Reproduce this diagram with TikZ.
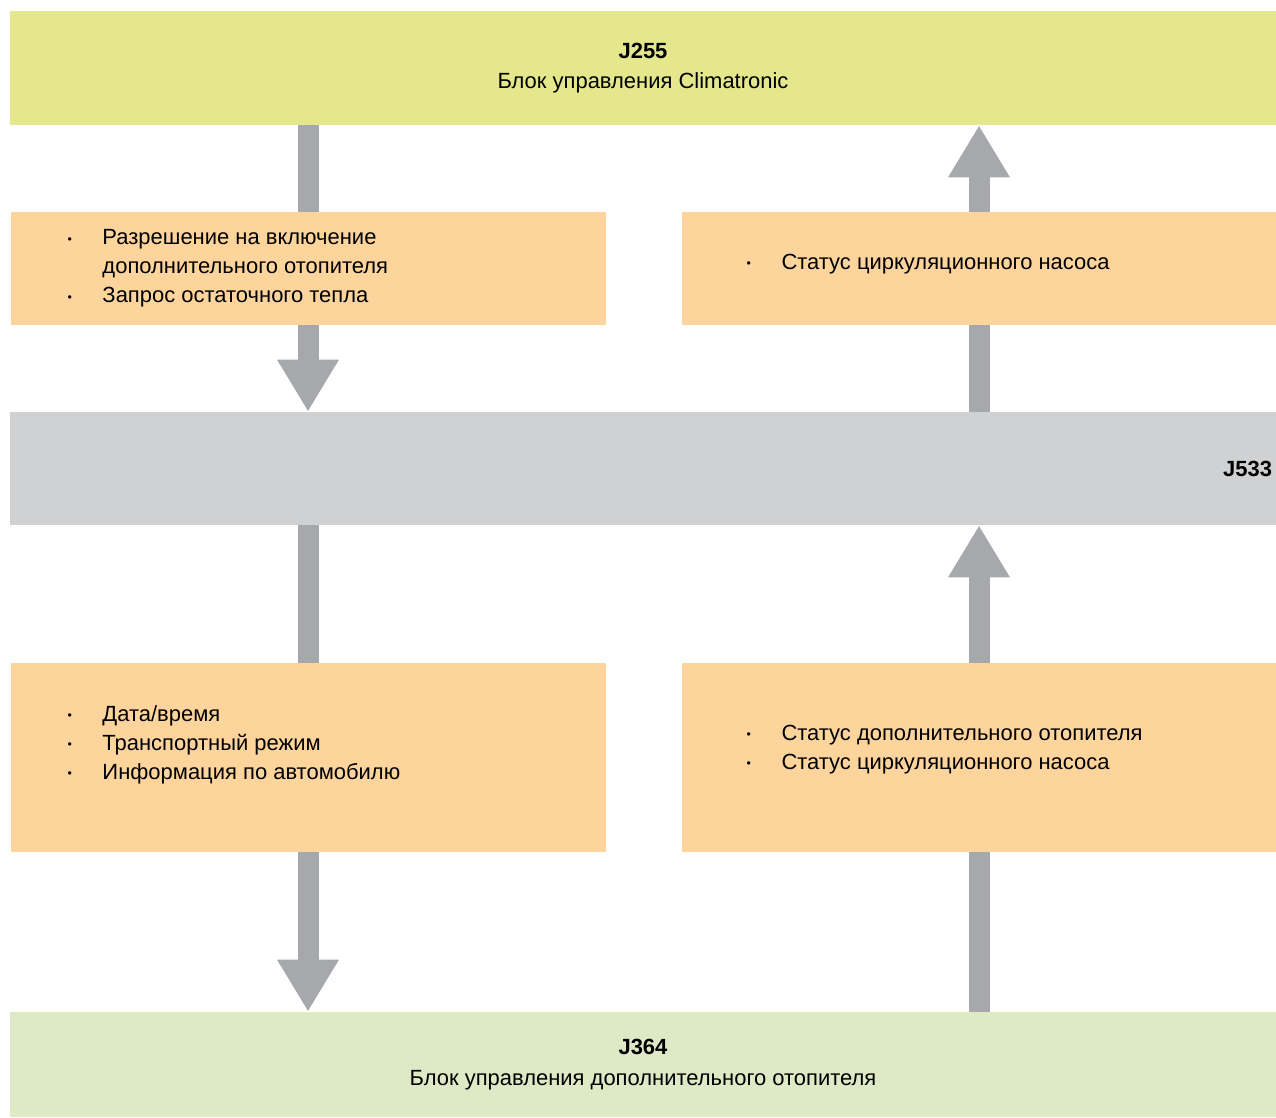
\documentclass[tikz,border=0pt]{standalone}
\usepackage{fontspec}
\setmainfont{Liberation Sans}
\usepackage{xcolor}
\usepackage{tikz}
\usetikzlibrary{arrows.meta,positioning,backgrounds}
\definecolor{ecuYellow}{HTML}{E5E78D}
\definecolor{ecuGreen}{HTML}{DEEAC6}
\definecolor{msgOrange}{HTML}{FCD49C}
\definecolor{busGray}{HTML}{D0D1D3}
\definecolor{arrowGray}{HTML}{A7A8AB}
\newcommand{\msgItem}[1]{\makebox[0.7cm][l]{\raisebox{0.15ex}{\scriptsize\textbullet}}#1}
\tikzset{
    ecuBox/.style={
        rectangle,
        inner sep=0pt,
        align=center,
        minimum width=25.32cm,
        font=\fontsize{12.5}{17.5}\selectfont
    },
    msgBox/.style={
        rectangle,
        inner sep=0pt,
        fill=msgOrange,
        minimum width=11.9cm
    },
    msgText/.style={
        anchor=west,
        inner sep=0pt,
        align=left,
        font=\fontsize{12.5}{16.5}\selectfont
    },
    dataArrow/.style={
        -{Triangle[width=1.16cm,length=1.04cm]},
        line width=0.42cm,
        draw=arrowGray
    }
}
\begin{document}
\begin{tikzpicture}
    \useasboundingbox (0,0) rectangle (25.52,-22.34);

    \node[ecuBox,fill=ecuYellow,minimum height=2.28cm] (j255) at (12.86,-1.36) {\textbf{J255}\\Блок управления Climatronic};
    \node[rectangle,fill=busGray,minimum width=25.32cm,minimum height=2.26cm] (j533) at (12.86,-9.37) {};
    \node[anchor=east,inner sep=0pt,font=\fontsize{12.5}{15}\selectfont\bfseries] (j533lbl) at ([xshift=-0.08cm]j533.east) {J533};
    \node[ecuBox,fill=ecuGreen,minimum height=2.1cm] (j364) at (12.86,-21.29) {\textbf{J364}\\Блок управления дополнительного отопителя};

    \node[msgBox,minimum height=2.26cm] (reqBox) at (6.16,-5.37) {};
    \node[msgBox,minimum height=2.26cm] (pumpBox) at (19.58,-5.37) {};
    \node[msgBox,minimum height=3.78cm] (infoBox) at (6.16,-15.15) {};
    \node[msgBox,minimum height=3.78cm] (statBox) at (19.58,-15.15) {};

    \node[msgText] (reqText) at ([xshift=1.14cm]reqBox.west) {\msgItem{Разрешение на включение}\\\hspace*{0.7cm}дополнительного отопителя\\\msgItem{Запрос остаточного тепла}};
    \node[msgText] (pumpText) at ([xshift=1.3cm,yshift=0.09cm]pumpBox.west) {\msgItem{Статус циркуляционного насоса}};
    \node[msgText] (infoText) at ([xshift=1.14cm,yshift=0.25cm]infoBox.west) {\msgItem{Дата/время}\\\msgItem{Транспортный режим}\\\msgItem{Информация по автомобилю}};
    \node[msgText] (statText) at ([xshift=1.3cm,yshift=0.16cm]statBox.west) {\msgItem{Статус дополнительного отопителя}\\\msgItem{Статус циркуляционного насоса}};

    % arrows run behind the message boxes
    \begin{pgfonlayer}{background}
        \fill[white] (0,0) rectangle (25.52,-22.34);
        \draw[dataArrow] (j255.south -| reqBox) -- (j533.north -| reqBox);
        \draw[dataArrow] (j533.north -| pumpBox) -- (j255.south -| pumpBox);
        \draw[dataArrow] (j533.south -| infoBox) -- (j364.north -| infoBox);
        \draw[dataArrow] (j364.north -| statBox) -- (j533.south -| statBox);
    \end{pgfonlayer}
\end{tikzpicture}
\end{document}
